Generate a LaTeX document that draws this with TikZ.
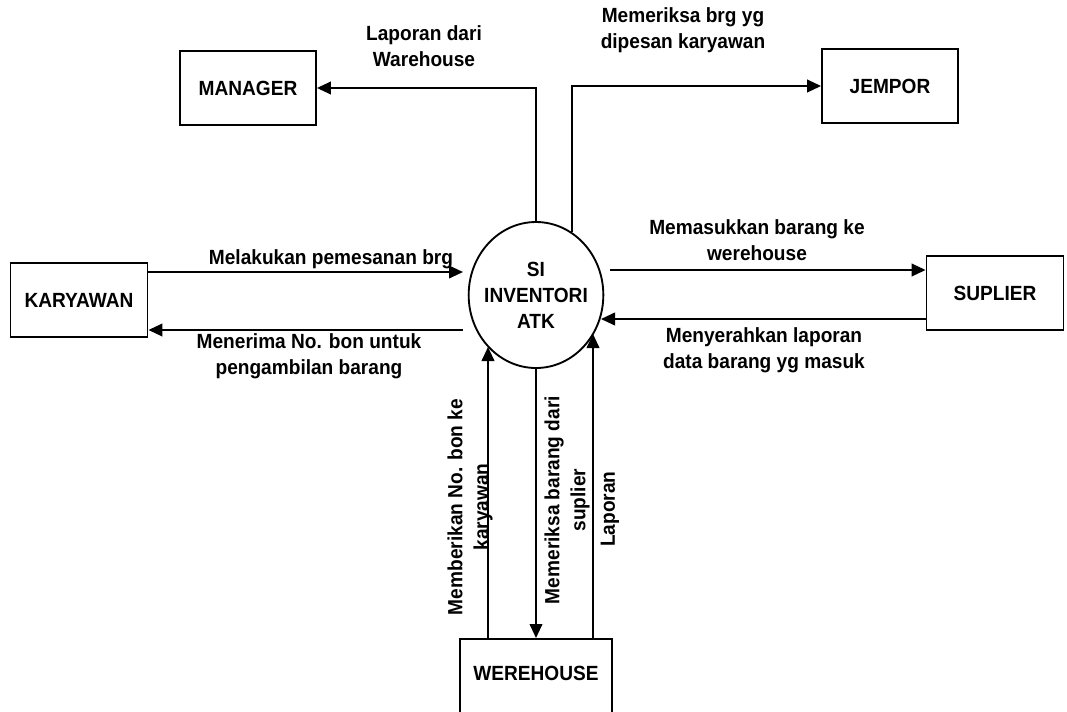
\documentclass[tikz,border=0pt]{standalone}
\usepackage{fontspec}
\newfontfamily\lbl{Liberation Sans Bold}[FakeStretch=0.93]
\usetikzlibrary{arrows.meta,shapes.geometric}
\begin{document}
\begin{tikzpicture}[x=0.75pt,y=-0.75pt,
  font=\lbl\fontsize{15.4}{19.5}\selectfont,
  line width=1.4pt,
  arr/.style={-{Triangle[length=10.5pt,width=9.5pt]}},
  entity/.style={draw, rectangle, inner sep=0pt, minimum width=102.75pt, minimum height=56pt},
  proc/.style={draw, ellipse, inner sep=-20pt, minimum width=101pt, minimum height=109.5pt, align=center},
  lab/.style={align=center, inner sep=0pt}]
\useasboundingbox (0,0) rectangle (1067,711);
\clip (0,0) rectangle (1067,711);
\fill[white] (0,0) rectangle (1067,711);

% process
\node[proc] (p) at (536,295) {SI\\INVENTORI\\ATK};

% entities
\node[entity, minimum width=102pt, minimum height=55.5pt] (man) at (248,88) {MANAGER};
\node[entity, minimum width=102pt, minimum height=55.5pt] (jem) at (890,86) {JEMPOR};
\node[entity] (kar) at (79,300) {KARYAWAN};
\node[entity] (sup) at (995,293) {SUPLIER};
\node[draw, rectangle, inner sep=0pt, minimum width=114pt, minimum height=75pt, anchor=north] (wh) at (536,638) {};
\node[lab] (whl) at (536,673) {WEREHOUSE};

% free ends near the process
\coordinate (k1) at (463,272);
\coordinate (k2) at (463,330);
\coordinate (s1) at (610,270);
\coordinate (s2) at (601,319);
\coordinate (b1) at (488,347);
\coordinate (b3) at (593,334);

% flows
\draw[arr] (p.north) |- (man.east);
\draw[arr] (p.60) |- (jem.west);
\draw[arr] (kar.east |- k1) -- (k1);
\draw[arr] (k2) -- (kar.east |- k2);
\draw[arr] (s1) -- (sup.west |- s1);
\draw[arr] (sup.west |- s2) -- (s2);
\draw[arr] (wh.north -| b1) -- (b1);
\draw[arr] (p.south) -- (wh.north);
\draw[arr] (wh.north -| b3) -- (b3);

% labels
\node[lab] (l1) at (424,46) {Laporan dari\\Warehouse};
\node[lab] (l2) at (683,30) {Memeriksa brg yg\\dipesan karyawan};
\node[lab] (l3) at (331,259) {Melakukan pemesanan brg};
\node[lab] (l4) at (309,356) {Menerima No. bon untuk\\pengambilan barang};
\node[lab] (l5) at (757,240) {Memasukkan barang ke\\werehouse};
\node[lab] (l6) at (764,350) {Menyerahkan laporan\\data barang yg masuk};
\node[lab, rotate=90] (l7) at (470,507) {Memberikan No. bon ke\\karyawan};
\node[lab, rotate=90] (l8) at (567,500) {Memeriksa barang dari\\suplier};
\node[lab, rotate=90] (l9) at (610,509) {Laporan};
\end{tikzpicture}
\end{document}
